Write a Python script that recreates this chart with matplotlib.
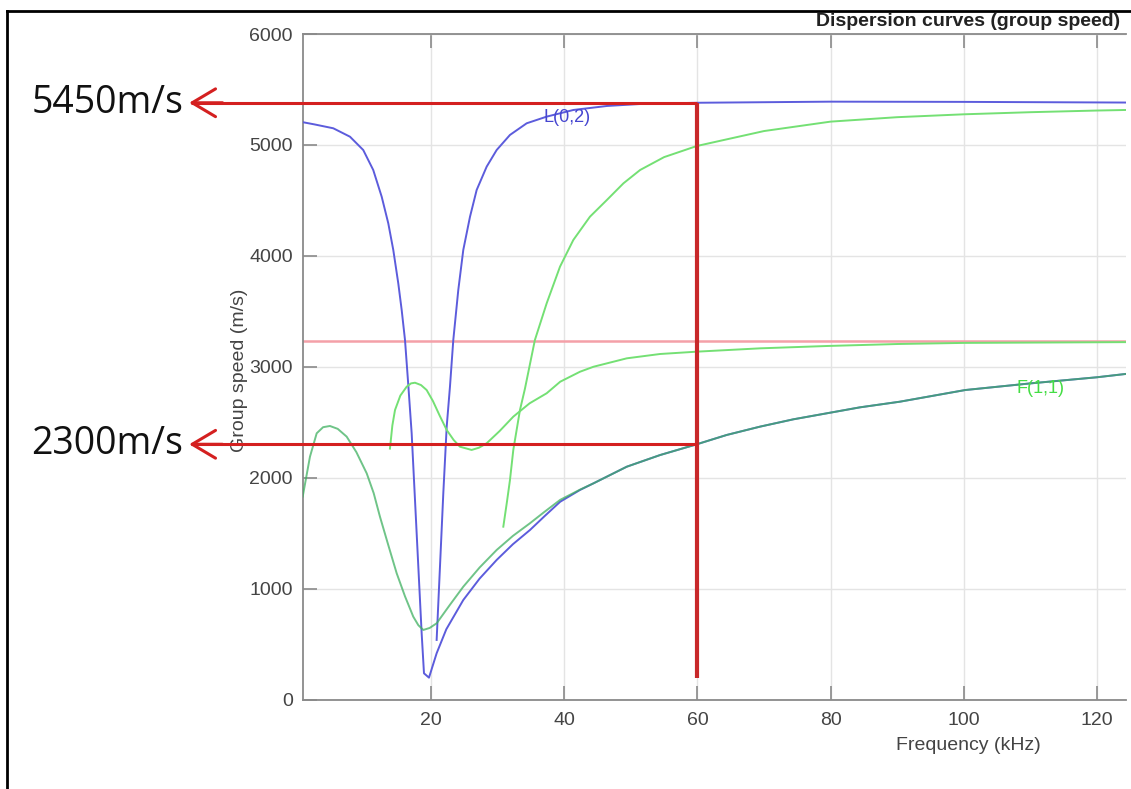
import matplotlib
matplotlib.use("Agg")
import matplotlib.pyplot as plt
from matplotlib.lines import Line2D

# ---------------- data ----------------
# L(0,2): left branch descending into the notch, then the low (flexural-like) branch
b1_f = [0.74, 2.5, 5.33, 7.84, 9.83, 11.33, 12.6, 13.59, 14.34, 15.09, 15.6, 16.1, 16.6, 17.1, 17.6,
        18.1, 18.6, 18.95, 19.7, 20.85, 22.3, 24.85, 27.3, 29.86, 32.3, 34.86, 37.0, 39.4, 42.37, 44.4,
        49.4, 54.4, 59.9, 64.4, 69.4, 74.4, 79.4, 84.4, 90.4, 100.2, 110, 119.96, 124.3]
b1_v = [5205, 5185, 5150, 5074, 4954, 4774, 4533, 4293, 4053, 3752, 3512, 3241, 2830, 2400, 1799,
        1197, 597, 236, 197, 417, 633, 897, 1090, 1258, 1400, 1528, 1650, 1783, 1889, 1949,
        2099, 2204, 2301, 2385, 2460, 2526, 2580, 2634, 2685, 2790, 2850, 2905, 2935]
# L(0,2): right branch rising to the plateau
b2_f = [20.85, 21.35, 21.85, 22.36, 22.85, 23.35, 24.1, 24.85, 25.86, 26.86, 28.36, 29.86, 31.86,
        34.37, 37.37, 41.37, 46.4, 51.4, 59.9, 80, 100, 124.3]
b2_v = [537, 1197, 1859, 2460, 2820, 3241, 3692, 4053, 4353, 4594, 4804, 4954, 5090,
        5195, 5255, 5315, 5351, 5369, 5380, 5390, 5388, 5382]
# green branch 1 (joins the low branch -> F(1,1))
g1_f = [0.74, 1.83, 2.84, 3.8, 4.83, 6.0, 7.34, 8.8, 10.35, 11.4, 12.34, 13.6, 14.85, 16.1, 17.34,
        18.1, 18.85, 19.8, 20.85, 22.8, 24.85, 27.3, 29.86, 32.3, 34.86, 37.0, 39.4, 42.37, 44.4,
        49.4, 54.4, 59.9, 64.4, 69.4, 74.4, 79.4, 84.4, 90.4, 100.2, 110, 119.96, 124.3]
g1_v = [1829, 2189, 2400, 2455, 2466, 2440, 2370, 2230, 2039, 1860, 1648, 1390, 1138, 930, 747,
        670, 627, 645, 687, 850, 1017, 1190, 1348, 1475, 1589, 1690, 1800, 1892, 1949,
        2099, 2204, 2301, 2385, 2460, 2526, 2580, 2634, 2685, 2790, 2850, 2905, 2935]
# green branch 2
g2_f = [13.84, 14.2, 14.6, 15.4, 16.35, 17.0, 17.6, 18.5, 19.35, 20.3, 21.3, 22.36, 23.4, 24.35,
        26.1, 27.2, 28.36, 30.3, 32.36, 34.8, 37.37, 39.4, 42.37, 44.4, 49.4, 54.4, 59.9, 69.4,
        79.4, 90, 100, 124.3]
g2_v = [2262, 2470, 2610, 2740, 2820, 2850, 2856, 2835, 2790, 2690, 2560, 2430, 2340, 2279,
        2250, 2270, 2310, 2420, 2550, 2670, 2761, 2865, 2955, 3000, 3076, 3115, 3136, 3166,
        3187, 3205, 3215, 3222]
# green branch 3
g3_f = [30.86, 31.4, 31.86, 32.36, 33.36, 34.1, 35.6, 37.37, 39.37, 41.37, 43.87, 46.4, 48.9, 51.4,
        55, 59.9, 70, 80, 90, 100, 110, 120, 124.3]
g3_v = [1558, 1780, 1979, 2250, 2610, 2800, 3241, 3572, 3902, 4143, 4353, 4503, 4654, 4774,
        4890, 4990, 5125, 5210, 5250, 5276, 5295, 5310, 5315]

bulk_speed = 3235             # pink horizontal line
marker_freq = 60              # red vertical line
marker_speeds = [5380, 2301]  # red arrows
marker_labels = ["5450m/s", "2300m/s"]
marker_bottom = 194
arrow_tip_f = -16.3

x_ticks = [20, 40, 60, 80, 100, 120]
y_ticks = [0, 1000, 2000, 3000, 4000, 5000, 6000]

# ---------------- figure ----------------
W, H = 1131, 789
fig = plt.figure(figsize=(W / 100, H / 100), dpi=100)
fig.patch.set_facecolor("white")
ax = fig.add_axes([302.7 / W, 1 - 699.5 / H, (1126 - 302.7) / W, (699.5 - 34) / H])

sans = ["Liberation Sans", "DejaVu Sans"]
blue = "#5c5cdc"
green = "#74e074"
red = "#d42020"

ax.set_xlim(0.74, 124.35)
ax.set_ylim(0, 6000)
ax.set_xticks(x_ticks)
ax.set_yticks(y_ticks)
ax.grid(True, color="#e4e4e4", lw=1)
ax.set_axisbelow(True)

for s in ["left", "bottom", "top"]:
    ax.spines[s].set_color("#8a8a8a")
    ax.spines[s].set_linewidth(1.3)
ax.spines["right"].set_visible(False)
ax.tick_params(axis="x", direction="in", length=10, width=1.2, color="#8a8a8a",
               top=True, labelsize=14, labelcolor="#444444", pad=9)
ax.tick_params(axis="y", direction="in", length=10, width=1.2, color="#8a8a8a",
               labelsize=14, labelcolor="#444444", pad=7)
for lab in ax.get_xticklabels() + ax.get_yticklabels():
    lab.set_family(sans)

# curves
ax.axhline(bulk_speed, color="#f4a0a8", lw=1.8, zorder=2)
ax.plot(b1_f, b1_v, color=blue, lw=1.4, zorder=3)
ax.plot(b2_f, b2_v, color=blue, lw=1.4, zorder=3)
ax.plot(g1_f, g1_v, color="#3fb060", lw=1.4, alpha=0.75, zorder=4)
ax.plot(g2_f, g2_v, color=green, lw=1.4, zorder=4)
ax.plot(g3_f, g3_v, color=green, lw=1.4, zorder=4)

ax.text(36.9, 5243, "L(0,2)", color="#4646d0", fontsize=13, family=sans, va="center", ha="left", zorder=6)
ax.text(107.9, 2800, "F(1,1)", color="#44dd44", fontsize=13, family=sans, va="center", ha="left", zorder=6)

# red annotation
ax.plot([marker_freq, marker_freq], [marker_speeds[0], marker_bottom], color="#c8282a", lw=3,
        zorder=7, solid_capstyle="butt")
for sp, lab in zip(marker_speeds, marker_labels):
    ax.plot([arrow_tip_f + 0.3, marker_freq], [sp, sp], color=red, lw=2.2, zorder=7,
            clip_on=False, solid_capstyle="butt")
    ax.annotate("", xy=(arrow_tip_f, sp), xytext=(arrow_tip_f + 5, sp),
                arrowprops=dict(arrowstyle="->,head_length=0.42,head_width=0.25", color=red,
                                lw=2.2, mutation_scale=40, shrinkA=0, shrinkB=0),
                annotation_clip=False, zorder=7)
    ax.text(arrow_tip_f - 0.9, sp, lab, fontsize=27, family=["Open Sans", "DejaVu Sans"],
            color="#111111", ha="right", va="center", clip_on=False)

ax.set_xlabel("Frequency (kHz)", fontsize=14, family=sans, color="#444444")
ax.xaxis.set_label_coords((968 - 302.7) / (1126 - 302.7), -(746 - 699.5) / (699.5 - 34))
ax.xaxis.label.set_va("center")
ax.set_ylabel("Group speed (m/s)", fontsize=14, family=sans, color="#444444")
ax.yaxis.set_label_coords((240 - 302.7) / (1126 - 302.7), (699.5 - 370) / (699.5 - 34))
ax.yaxis.label.set_va("center")

fig.text(1120 / W, 1 - 21 / H, "Dispersion curves (group speed)", fontsize=14, fontweight="bold",
         family=sans, color="#222222", ha="right", va="center")

# figure frame (top and left)
fig.add_artist(Line2D([7 / W, 7 / W], [0, 1 - 11 / H], color="black", lw=2, transform=fig.transFigure))
fig.add_artist(Line2D([7 / W, 1], [1 - 11 / H, 1 - 11 / H], color="black", lw=2, transform=fig.transFigure))

fig.savefig("out.png", dpi=100)
